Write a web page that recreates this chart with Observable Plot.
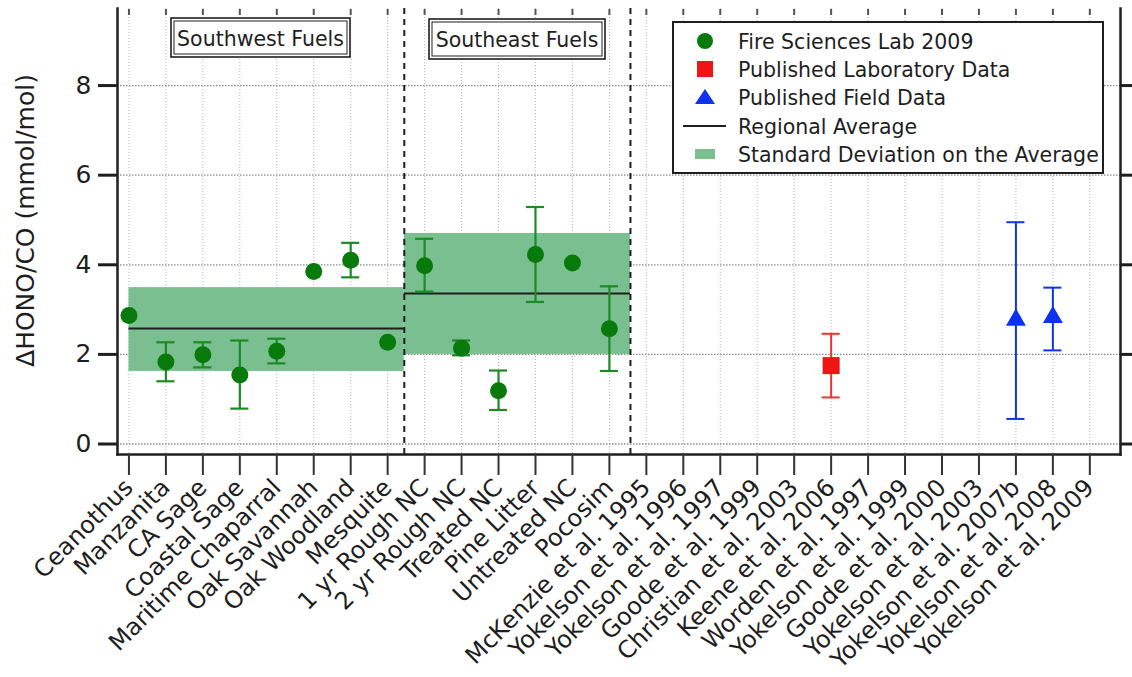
<!DOCTYPE html>
<html>
<head>
<meta charset="utf-8">
<script src="https://cdn.jsdelivr.net/npm/d3@7"></script>
<script src="https://cdn.jsdelivr.net/npm/@observablehq/plot@0.6"></script>
<style>
  html, body { margin: 0; padding: 0; background: #fff; }
  svg { display: block; }
</style>
</head>
<body>
<div id="chart"></div>
<script>
// ---------------- data ----------------
const categories = [
  "Ceanothus", "Manzanita", "CA Sage", "Coastal Sage", "Maritime Chaparral",
  "Oak Savannah", "Oak Woodland", "Mesquite",
  "1 yr Rough NC", "2 yr Rough NC", "Treated NC", "Pine Litter", "Untreated NC", "Pocosim",
  "McKenzie et al. 1995", "Yokelson et al. 1996", "Yokelson et al. 1997", "Goode et al. 1999",
  "Christian et al. 2003", "Keene et al. 2006", "Worden et al. 1997", "Yokelson et al. 1999",
  "Goode et al. 2000", "Yokelson et al. 2003", "Yokelson et al. 2007b", "Yokelson et al. 2008",
  "Yokelson et al. 2009"
];

// Fire Sciences Lab 2009 (first 14 categories)
const fslValue = [2.87, 1.83, 1.99, 1.54, 2.07, 3.85, 4.10, 2.27, 3.98, 2.14, 1.19, 4.23, 4.04, 2.57];
const fslLow   = [null, 1.40, 1.71, 0.79, 1.80, null, 3.72, null, 3.40, 1.98, 0.76, 3.17, null, 1.63];
const fslHigh  = [null, 2.27, 2.27, 2.31, 2.35, null, 4.49, null, 4.58, 2.31, 1.64, 5.29, null, 3.52];

// Published laboratory data
const labCategory = ["Keene et al. 2006"];
const labValue = [1.75];
const labLow   = [1.04];
const labHigh  = [2.46];

// Published field data
const fieldCategory = ["Yokelson et al. 2007b", "Yokelson et al. 2008"];
const fieldValue = [2.77, 2.83];
const fieldLow   = [0.56, 2.09];
const fieldHigh  = [4.95, 3.49];

// Regional averages and standard deviations
const regionName  = ["Southwest Fuels", "Southeast Fuels"];
const regionStart = [0, 7.45];
const regionEnd   = [7.45, 13.57];
const regionMean  = [2.58, 3.36];
const regionSdLow = [1.62, 2.00];
const regionSdHigh= [3.49, 4.70];

const dividers = [7.45, 13.57];
const yTicks = [0, 2, 4, 6, 8];
const yTitle = "ΔHONO/CO (mmol/mol)";

const legendLabels = [
  "Fire Sciences Lab 2009",
  "Published Laboratory Data",
  "Published Field Data",
  "Regional Average",
  "Standard Deviation on the Average"
];

// ---------------- tables ----------------
const idx = c => categories.indexOf(c);
const indices = categories.map((_, i) => i);
const fsl = fslValue.map((v, i) => ({i, v, lo: fslLow[i], hi: fslHigh[i]}));
const fslErr = fsl.filter(d => d.lo != null);
const lab = labCategory.map((c, k) => ({i: idx(c), v: labValue[k], lo: labLow[k], hi: labHigh[k]}));
const field = fieldCategory.map((c, k) => ({i: idx(c), v: fieldValue[k], lo: fieldLow[k], hi: fieldHigh[k]}));
const regions = regionName.map((n, k) => ({n, x1: regionStart[k], x2: regionEnd[k], m: regionMean[k], lo: regionSdLow[k], hi: regionSdHigh[k]}));

const GREEN = "#087a0c", GREEN_BAR = "#1d8a26", BAND = "#79bf8f";
const RED = "#f01414", BLUE = "#0f32f0", INK = "#1e1e1e";
const cap = 0.245; // half-width of error-bar caps in category units

function errorMarks(data, color, w) {
  return [
    Plot.ruleX(data, {x: "i", y1: "lo", y2: "hi", stroke: color, strokeWidth: w}),
    Plot.ruleY(data, {y: "lo", x1: d => d.i - cap, x2: d => d.i + cap, stroke: color, strokeWidth: w}),
    Plot.ruleY(data, {y: "hi", x1: d => d.i - cap, x2: d => d.i + cap, stroke: color, strokeWidth: w})
  ];
}

const svg = Plot.plot({
  width: 1132,
  height: 677,
  marginLeft: 117,
  marginRight: 12,
  marginTop: 8,
  marginBottom: 223,
  style: {fontFamily: "DejaVu Sans", color: INK, background: "white"},
  x: {domain: [-0.31, 26.83], axis: null},
  y: {domain: [-0.234, 9.72], axis: null},
  marks: [
    // grid
    Plot.ruleX(indices, {x: d => d, stroke: "#b8b8b8", strokeWidth: 1, strokeDasharray: "1,2"}),
    Plot.ruleY(yTicks, {y: d => d, stroke: "#8a8a8a", strokeWidth: 1.3, strokeDasharray: "1.5,1.5"}),
    // regional std band and mean
    Plot.rect(regions, {x1: "x1", x2: "x2", y1: "lo", y2: "hi", fill: BAND}),
    Plot.ruleY(regions, {y: "m", x1: "x1", x2: "x2", stroke: INK, strokeWidth: 2}),
    // dividers
    Plot.ruleX(dividers, {x: d => d, stroke: INK, strokeWidth: 2, strokeDasharray: "6,5"}),
    // error bars
    ...errorMarks(fslErr, GREEN_BAR, 2.2),
    ...errorMarks(lab, "#ee3333", 2),
    ...errorMarks(field, BLUE, 2),
    // points
    Plot.dot(fsl, {x: "i", y: "v", r: 8.5, fill: GREEN, stroke: "none"}),
    Plot.dot(lab, {x: "i", y: "v", r: 9.6, symbol: "square", fill: RED, stroke: "none"}),
    Plot.dot(field, {x: "i", y: "v", r: 7.4, symbol: "triangle", fill: BLUE, stroke: "none"}),
    // frame lines
    Plot.frame({anchor: "left", stroke: INK, strokeWidth: 2.5}),
    Plot.frame({anchor: "right", stroke: INK, strokeWidth: 2.5}),
    Plot.frame({anchor: "bottom", stroke: INK, strokeWidth: 2.5}),
    // axes
    Plot.axisY({ticks: yTicks, tickSize: 19, tickPadding: 7, fontSize: 25, strokeWidth: 3, stroke: INK, fill: INK, tickFormat: d => d, label: null}),
    Plot.axisY({anchor: "right", ticks: yTicks, tickSize: 14, strokeWidth: 3, stroke: INK, fill: "none", label: null}),
    Plot.axisX({ticks: indices, tickSize: 21, tickPadding: 8, tickRotate: -45, fontSize: 24, strokeWidth: 2, stroke: "#333", fill: INK, tickFormat: i => categories[i], label: null}),
    Plot.axisX({anchor: "top", ticks: indices, tickSize: -6, strokeWidth: 2, stroke: "#555", fill: "none", label: null}),
    // y title
    Plot.text([yTitle], {text: d => d, frameAnchor: "left", textAnchor: "middle", dx: -92, dy: -11, rotate: -90, fontSize: 25, fill: INK})
  ]
});

document.getElementById("chart").appendChild(svg);

// ---------------- annotation boxes & legend ----------------
const sel = d3.select(svg);
const g = sel.append("g").attr("font-family", "DejaVu Sans").attr("fill", INK);

function fuelBox(x0, y0, x1, y1, label) {
  g.append("rect").attr("x", x0).attr("y", y0).attr("width", x1 - x0).attr("height", y1 - y0)
    .attr("fill", "white").attr("stroke", INK).attr("stroke-width", 1.6);
  g.append("rect").attr("x", x0 + 3).attr("y", y0 + 3).attr("width", x1 - x0 - 6).attr("height", y1 - y0 - 6)
    .attr("fill", "none").attr("stroke", INK).attr("stroke-width", 1);
  g.append("text").attr("x", (x0 + x1) / 2).attr("y", (y0 + y1) / 2 + 1)
    .attr("text-anchor", "middle").attr("dominant-baseline", "central")
    .attr("font-size", 20.5).text(label);
}
fuelBox(171, 18, 350, 57, regionName[0]);
fuelBox(429, 19, 605, 59, regionName[1]);

// legend
g.append("rect").attr("x", 673).attr("y", 22).attr("width", 430).attr("height", 151)
  .attr("fill", "white").attr("stroke", INK).attr("stroke-width", 2);
const ly = [41, 69, 97, 126, 154];
const sx = 705;
g.append("circle").attr("cx", sx).attr("cy", ly[0]).attr("r", 8).attr("fill", GREEN);
g.append("rect").attr("x", sx - 8).attr("y", ly[1] - 8).attr("width", 16).attr("height", 16).attr("fill", RED);
g.append("path").attr("d", `M${sx - 10},${ly[2] + 7}L${sx + 10},${ly[2] + 7}L${sx},${ly[2] - 8}Z`).attr("fill", BLUE);
g.append("line").attr("x1", sx - 22).attr("x2", sx + 21).attr("y1", ly[3]).attr("y2", ly[3]).attr("stroke", INK).attr("stroke-width", 2);
g.append("rect").attr("x", sx - 10).attr("y", ly[4] - 5).attr("width", 20).attr("height", 10).attr("fill", BAND);
legendLabels.forEach((t, k) => {
  g.append("text").attr("x", 738).attr("y", ly[k] + 1).attr("text-anchor", "start").attr("dominant-baseline", "central")
    .attr("font-size", 20.5).text(t);
});
</script>
</body>
</html>
